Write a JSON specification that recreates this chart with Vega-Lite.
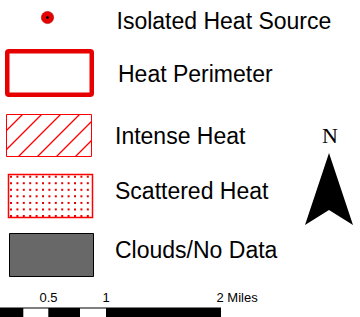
{
  "$schema": "https://vega.github.io/schema/vega-lite/v6.json",
  "width": 360,
  "height": 317,
  "padding": 0,
  "autosize": "none",
  "background": "#ffffff",
  "config": {"view": {"stroke": null}},
  "encoding": {
    "x": {"field": "x", "type": "quantitative", "scale": {"domain": [0, 360], "nice": false, "zero": false}, "axis": null},
    "y": {"field": "y", "type": "quantitative", "scale": {"domain": [0, 317], "nice": false, "zero": false, "reverse": true}, "axis": null}
  },
  "layer": [
    {
      "data": {"values": [{"x": 7.25, "x2": 91.75, "y": 51.25, "y2": 94.75}]},
      "mark": {"type": "rect", "fill": "#ffffff", "stroke": "#e60000", "strokeWidth": 4.5, "cornerRadius": 1.5},
      "encoding": {"x2": {"field": "x2"}, "y2": {"field": "y2"}}
    },
    {
      "data": {"values": [{"x": 6.5, "x2": 91.5, "y": 114.5, "y2": 156.5}]},
      "mark": {"type": "rect", "fill": "#ffffff", "stroke": "#ff0000", "strokeWidth": 1},
      "encoding": {"x2": {"field": "x2"}, "y2": {"field": "y2"}}
    },
    {
      "data": {"values": [
        {"x": 6.5, "y": 130.5, "x2": 22.5, "y2": 114.5},
        {"x": 6.5, "y": 149.5, "x2": 41.5, "y2": 114.5},
        {"x": 18.5, "y": 156.5, "x2": 60.5, "y2": 114.5},
        {"x": 37.5, "y": 156.5, "x2": 79.5, "y2": 114.5},
        {"x": 56.5, "y": 156.5, "x2": 91.5, "y2": 121.5},
        {"x": 75.5, "y": 156.5, "x2": 91.5, "y2": 140.5}
      ]},
      "mark": {"type": "rule", "color": "#ff0000", "stroke": "#ff0000", "strokeWidth": 1.2, "opacity": 1},
      "encoding": {"x2": {"field": "x2"}, "y2": {"field": "y2"}}
    },
    {
      "data": {"values": [{"x": 8.5, "x2": 92.5, "y": 174.5, "y2": 217.5}]},
      "mark": {"type": "rect", "fill": "#ffffff", "stroke": "#ff0000", "strokeWidth": 1.5},
      "encoding": {"x2": {"field": "x2"}, "y2": {"field": "y2"}}
    },
    {
      "data": {"values": [
        {"x": 11, "ys": [176.7, 183.2, 189.8, 196.3, 202.9, 209.4, 216]},
        {"x": 17.4, "ys": [176.7, 183.2, 189.8, 196.3, 202.9, 209.4, 216]},
        {"x": 23.8, "ys": [176.7, 183.2, 189.8, 196.3, 202.9, 209.4, 216]},
        {"x": 30.2, "ys": [176.7, 183.2, 189.8, 196.3, 202.9, 209.4, 216]},
        {"x": 36.6, "ys": [176.7, 183.2, 189.8, 196.3, 202.9, 209.4, 216]},
        {"x": 43, "ys": [176.7, 183.2, 189.8, 196.3, 202.9, 209.4, 216]},
        {"x": 49.4, "ys": [176.7, 183.2, 189.8, 196.3, 202.9, 209.4, 216]},
        {"x": 55.8, "ys": [176.7, 183.2, 189.8, 196.3, 202.9, 209.4, 216]},
        {"x": 62.2, "ys": [176.7, 183.2, 189.8, 196.3, 202.9, 209.4, 216]},
        {"x": 68.6, "ys": [176.7, 183.2, 189.8, 196.3, 202.9, 209.4, 216]},
        {"x": 75, "ys": [176.7, 183.2, 189.8, 196.3, 202.9, 209.4, 216]},
        {"x": 81.4, "ys": [176.7, 183.2, 189.8, 196.3, 202.9, 209.4, 216]},
        {"x": 87.8, "ys": [176.7, 183.2, 189.8, 196.3, 202.9, 209.4, 216]}
      ]},
      "transform": [{"flatten": ["ys"], "as": ["y"]}],
      "mark": {"type": "square", "size": 4, "fill": "#e60000", "filled": true, "strokeWidth": 0, "opacity": 1}
    },
    {
      "data": {"values": [{"x": 9.5, "x2": 93.5, "y": 233.5, "y2": 276.5}]},
      "mark": {"type": "rect", "fill": "#686868", "stroke": "#000000", "strokeWidth": 1},
      "encoding": {"x2": {"field": "x2"}, "y2": {"field": "y2"}}
    },
    {
      "data": {"values": [{"x": 47.5, "y": 17.5}]},
      "mark": {"type": "circle", "size": 150, "fill": "#e60000", "opacity": 1, "stroke": "#b00000", "strokeWidth": 0.6}
    },
    {
      "data": {"values": [{"x": 47.5, "y": 17.5}]},
      "mark": {"type": "circle", "size": 9, "fill": "#000000", "opacity": 1}
    },
    {
      "data": {"values": [
        {"x": 116.5, "y": 29, "label": "Isolated Heat Source"},
        {"x": 118, "y": 82, "label": "Heat Perimeter"},
        {"x": 115, "y": 144, "label": "Intense Heat"},
        {"x": 115, "y": 199, "label": "Scattered Heat"},
        {"x": 115, "y": 258, "label": "Clouds/No Data"}
      ]},
      "mark": {"type": "text", "align": "left", "baseline": "alphabetic", "font": "Liberation Sans", "fontSize": 23, "fill": "#000000"},
      "encoding": {"text": {"field": "label"}}
    },
    {
      "data": {"values": [{"x": 330, "y": 143, "label": "N"}]},
      "mark": {"type": "text", "align": "center", "baseline": "alphabetic", "font": "Liberation Serif", "fontSize": 22, "fill": "#000000"},
      "encoding": {"text": {"field": "label"}}
    },
    {
      "data": {"values": [
        {"x": 305, "y": 225, "y2": 225},
        {"x": 329, "y": 153, "y2": 210},
        {"x": 353, "y": 225, "y2": 225}
      ]},
      "mark": {"type": "area", "fill": "#000000", "orient": "vertical"},
      "encoding": {"y2": {"field": "y2"}}
    },
    {
      "data": {"values": [
        {"x": -5, "x2": 221, "y": 307.5, "y2": 330, "c": "black"},
        {"x": 23.3, "x2": 48.3, "y": 308.5, "y2": 330, "c": "white"},
        {"x": 80, "x2": 106, "y": 308.5, "y2": 330, "c": "white"}
      ]},
      "mark": {"type": "rect", "clip": true},
      "encoding": {
        "x2": {"field": "x2"},
        "y2": {"field": "y2"},
        "fill": {"field": "c", "type": "nominal", "scale": {"domain": ["black", "white"], "range": ["#000000", "#ffffff"]}, "legend": null}
      }
    },
    {
      "data": {"values": [
        {"x": 48.5, "y": 302, "label": "0.5"},
        {"x": 106, "y": 302, "label": "1"}
      ]},
      "mark": {"type": "text", "align": "center", "baseline": "alphabetic", "font": "Liberation Sans", "fontSize": 13, "fill": "#000000"},
      "encoding": {"text": {"field": "label"}}
    },
    {
      "data": {"values": [{"x": 216.5, "y": 302, "label": "2 Miles"}]},
      "mark": {"type": "text", "align": "left", "baseline": "alphabetic", "font": "Liberation Sans", "fontSize": 13, "fill": "#000000"},
      "encoding": {"text": {"field": "label"}}
    }
  ]
}
